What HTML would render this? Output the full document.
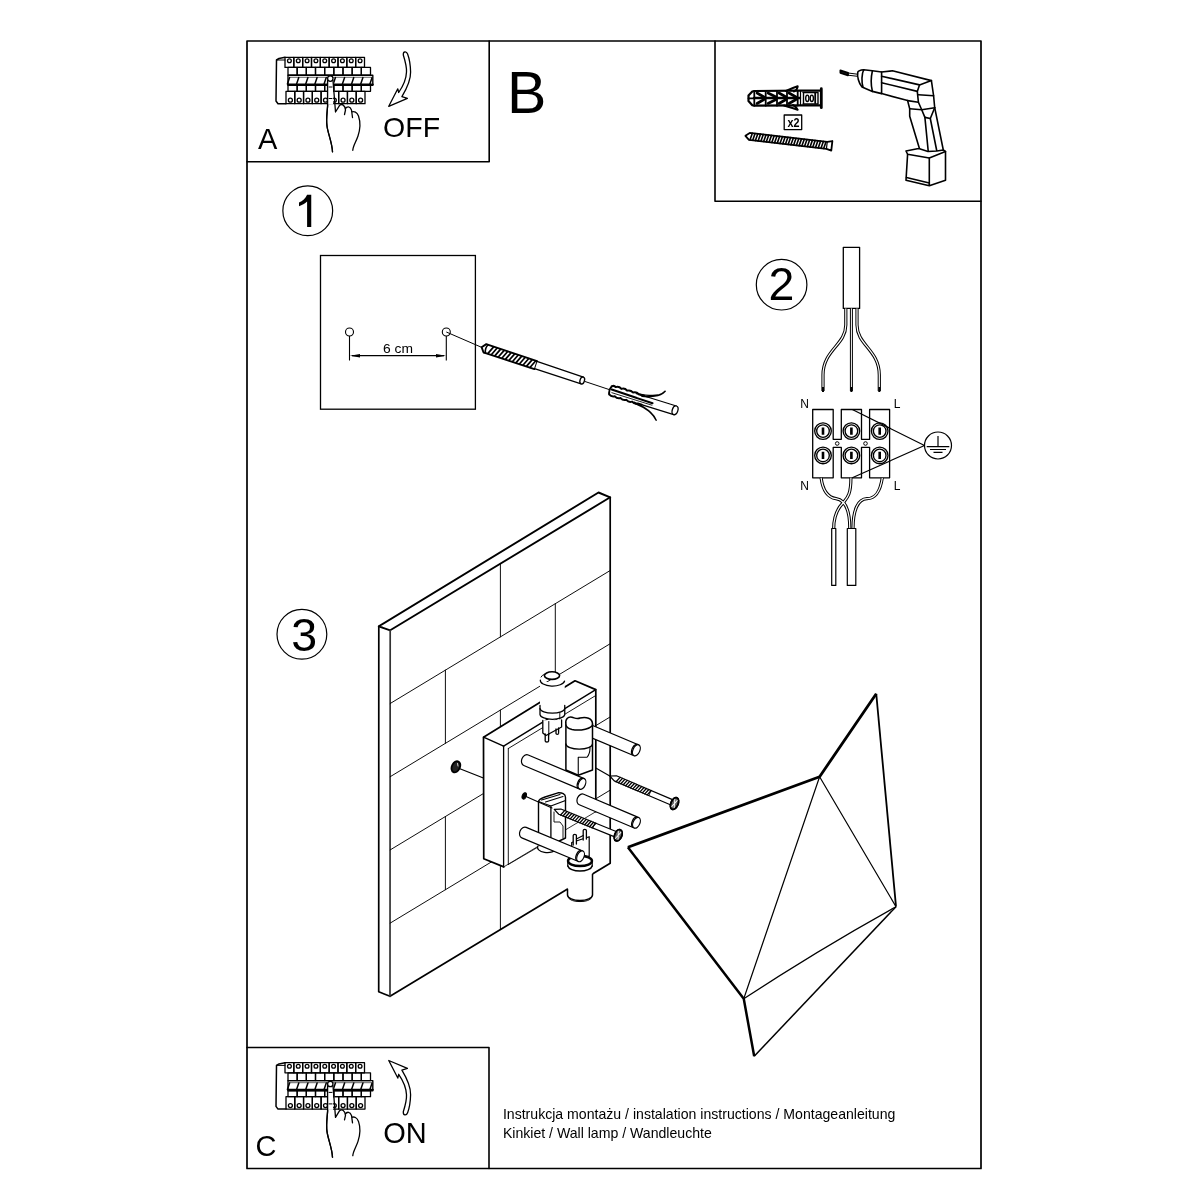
<!DOCTYPE html>
<html><head><meta charset="utf-8">
<style>
html,body{margin:0;padding:0;background:#fff;}
body{width:1200px;height:1200px;overflow:hidden;position:relative;}
svg{position:absolute;left:0;top:0;}
text{font-family:"Liberation Sans",sans-serif;fill:#000;}
svg{will-change:transform;}
</style></head><body>
<svg width="1200" height="1200" viewBox="0 0 1200 1200">
<g fill="none" stroke="#000" stroke-linejoin="round" stroke-linecap="round">
<!-- outer frame -->
<rect x="247" y="41" width="734" height="1127.5" stroke-width="1.7"/>
<!-- box A -->
<polyline points="247,161.8 489.2,161.8 489.2,41" stroke-width="1.6"/>
<!-- box tools -->
<polyline points="715,41 715,201.3 981,201.3" stroke-width="1.6"/>
<!-- box C -->
<polyline points="247,1047.5 489,1047.5 489,1168.5" stroke-width="1.6"/>
</g>

<!-- texts -->
<text x="507" y="112.7" font-size="59">B</text>
<text x="258" y="148.7" font-size="29">A</text>
<text x="383.1" y="137.2" font-size="28.5">OFF</text>
<text x="255.5" y="1156" font-size="29">C</text>
<text x="383.25" y="1143.2" font-size="29">ON</text>
<text x="502.9" y="1118.75" font-size="14.1" fill="#1a1a1a">Instrukcja montażu / instalation instructions / Montageanleitung</text>
<text x="502.9" y="1137.5" font-size="14.1" fill="#1a1a1a">Kinkiet / Wall lamp / Wandleuchte</text>

<!-- step circles -->
<g fill="none" stroke="#000" stroke-width="1.2">
<circle cx="307.75" cy="210.75" r="24.9"/>
<circle cx="781.6" cy="284.7" r="25.3"/>
<circle cx="301.9" cy="634.3" r="24.9"/>
</g>
<path d="M307.1,194.8 L311.25,194.8 L311.25,227 L307.1,227 L307.1,201.6 C305,203.8 302,205.3 299,206.3 L299,202.6 C302.5,201.2 305.6,198.5 307.1,194.8 Z" fill="#000"/>
<text x="768.6" y="300.3" font-size="46.5">2</text>
<text x="291.2" y="650.8" font-size="46.5">3</text>

<!-- STEP1 -->
<g id="step1" fill="none" stroke="#000">
<rect x="320.5" y="255.5" width="154.9" height="153.7" stroke-width="1.3"/>
<circle cx="349.5" cy="332" r="4" stroke-width="1.1"/>
<circle cx="446.3" cy="332" r="4" stroke-width="1.1"/>
<path d="M349.5,336 V360.5 M446.3,336 V360.5" stroke-width="1.1"/>
<path d="M352,355.7 H444" stroke-width="1.2"/>
<path d="M446.3,332 L482,347.5" stroke-width="1"/>
<path d="M585,381.5 L609,389.5" stroke-width="1"/>
</g>
<path d="M349.8,355.7 L360,353.9 L360,357.5 Z M446,355.7 L436,353.9 L436,357.5 Z" fill="#000"/>
<text x="383" y="353" font-size="13.6" textLength="30" lengthAdjust="spacingAndGlyphs">6 cm</text>
<!-- drill bit -->
<g transform="translate(481.6,347.2) rotate(18.3)" fill="none" stroke="#000" stroke-linejoin="round" stroke-linecap="round">
<path d="M0,0 L3.5,-4.4 L6.5,-4.4 L57,-4.2 M0,0 L3.5,4.4 L6.5,4.4 L57,4.2" stroke-width="1.9"/>
<path d="M5.5,-4.2 C4,-2 4,2 5.5,4.2" stroke-width="1.6"/>
<path d="M8.0,3.8 L11.2,-3.8 M11.7,3.8 L14.9,-3.8 M15.4,3.8 L18.6,-3.8 M19.1,3.8 L22.3,-3.8 M22.8,3.8 L26.0,-3.8 M26.5,3.8 L29.7,-3.8 M30.2,3.8 L33.4,-3.8 M33.9,3.8 L37.1,-3.8 M37.6,3.8 L40.8,-3.8 M41.3,3.8 L44.5,-3.8 M45.0,3.8 L48.2,-3.8 M48.7,3.8 L51.9,-3.8 M52.4,3.8 L55.6,-3.8 " stroke-width="1.7"/>
<path d="M57,-3.8 L106,-3.6 M57,3.8 L106,3.6" stroke-width="1.3"/>
<path d="M57,-4.2 L57,4.2" stroke-width="1"/>
<ellipse cx="106" cy="0" rx="2.2" ry="3.6" stroke-width="1.3" fill="#fff"/>
</g>
<!-- dowel step1 -->
<g transform="translate(608.6,389.6) rotate(17.3)" fill="none" stroke="#000" stroke-linejoin="round" stroke-linecap="round">
<path d="M69.6,-4.5 L35,-4.5 M69.6,4.5 L35,4.5" stroke-width="1.2"/>
<path d="M2,-4 Q0,0 2,4.5 M2,-4 Q4,-6 6,-4.5 Q9,-6.5 12,-4.5 Q15,-6.5 18,-4.5 Q21,-6.5 24,-4.5 Q27,-6.5 30,-4.5 L36,-4.5 M2,4.5 Q5,6.5 8,4.5 Q11,6.5 14,4.5 Q17,6.5 20,4.5 Q23,6.5 26,4.5 Q29,6.5 32,4.5 L36,4.5" stroke-width="2"/>
<path d="M3,-1 L46,0" stroke-width="2"/>
<path d="M4,2 L46,2" stroke-width="0.8"/>
<path d="M28,-4.5 Q42,-6 49,-9.5 Q53,-12 54.5,-15.2 Q52,-10 46,-7.5 Q40,-4.5 34,-3.5" stroke-width="1.5"/>
<path d="M28,4.5 Q40,6 47,9.5 Q52,12 54.5,15.1 Q50,10.5 45,8.5 Q38,6 30,5.5" stroke-width="1.5"/>
<ellipse cx="69.6" cy="0" rx="2.8" ry="4.5" stroke-width="1.3" fill="#fff"/>
</g>

<!-- STEP2 -->
<g id="step2" fill="none" stroke="#000" stroke-linejoin="round">
<rect x="843.3" y="247.3" width="16.3" height="61.1" stroke-width="1.3"/>
<!-- upper wires (double lines) -->
<path d="M845.8,308.4 L845.8,325 C845.8,345 823,350 823,375 L823,391" stroke-width="3.2"/>
<path d="M845.8,308.4 L845.8,325 C845.8,345 823,350 823,375 L823,391" stroke="#fff" stroke-width="1.2"/>
<path d="M851.4,308.4 L851.4,391" stroke-width="3"/>
<path d="M851.4,308.4 L851.4,391" stroke="#fff" stroke-width="1"/>
<path d="M857,308.4 L857,325 C857,345 879.3,350 879.3,375 L879.3,391" stroke-width="3.2"/>
<path d="M857,308.4 L857,325 C857,345 879.3,350 879.3,375 L879.3,391" stroke="#fff" stroke-width="1.2"/>
<path d="M823,387 V392 M851.4,387 V392 M879.3,387 V392" stroke-width="2"/>
<!-- terminal block outline -->
<path d="M812.7,409.5 H833.2 V439.3 H841.3 V409.5 H861.5 V439.3 H869.6 V409.5 H889.6 V477.8 H869.6 V447.4 H861.5 V477.8 H841.3 V447.4 H833.2 V477.8 H812.7 Z" stroke-width="1.3"/>
<circle cx="837.2" cy="443.5" r="1.8" stroke-width="1"/>
<circle cx="865.5" cy="443.5" r="1.8" stroke-width="1"/>
<g stroke-width="1.35">
<circle cx="823" cy="431.1" r="8.3"/><circle cx="823" cy="431.1" r="6.3"/>
<circle cx="851.4" cy="431.1" r="8.3"/><circle cx="851.4" cy="431.1" r="6.3"/>
<circle cx="879.7" cy="431.1" r="8.3"/><circle cx="879.7" cy="431.1" r="6.3"/>
<circle cx="823" cy="455.4" r="8.3"/><circle cx="823" cy="455.4" r="6.3"/>
<circle cx="851.4" cy="455.4" r="8.3"/><circle cx="851.4" cy="455.4" r="6.3"/>
<circle cx="879.7" cy="455.4" r="8.3"/><circle cx="879.7" cy="455.4" r="6.3"/>
</g>
<path d="M823,427.4 V434.8 M851.4,427.4 V434.8 M879.7,427.4 V434.8 M823,451.7 V459.1 M851.4,451.7 V459.1 M879.7,451.7 V459.1" stroke-width="2.6"/>
<!-- earth lines -->
<path d="M852.3,409.5 L924.5,445.5 L852.3,477.8" stroke-width="1.2"/>
<circle cx="938" cy="445.5" r="13.5" stroke-width="1.2"/>
<path d="M938,436 V446.7 M926.7,446.7 H949.3 M930,449.5 H946 M933.5,452.3 H942.5" stroke-width="1.2"/>
<!-- lower wires -->
<g id="lw">
<path d="M821.1,477.8 C823,492 828,497.5 836,498.7 C845,500 849.8,510 849.8,528.5" stroke-width="3.2"/>
<path d="M850.9,477.8 C851,495 847,498 843,503 C836,510 833.7,518 833.7,528.5" stroke-width="3.2"/>
<path d="M882.3,477.8 C880,493 875,498.5 867,498.7 C858,499 853,510 853,528.5" stroke-width="3.2"/>
</g>
<g stroke="#fff" stroke-width="1.2">
<path d="M821.1,477.8 C823,492 828,497.5 836,498.7 C845,500 849.8,510 849.8,528.5"/>
<path d="M850.9,477.8 C851,495 847,498 843,503 C836,510 833.7,518 833.7,528.5"/>
<path d="M882.3,477.8 C880,493 875,498.5 867,498.7 C858,499 853,510 853,528.5"/>
</g>
<rect x="831.7" y="528.5" width="4.1" height="56.9" stroke-width="1.2" fill="#fff"/>
<rect x="847.3" y="528.5" width="8.5" height="56.9" stroke-width="1.2" fill="#fff"/>
</g>
<text x="800.3" y="408.4" font-size="12">N</text>
<text x="893.8" y="408.4" font-size="12">L</text>
<text x="800.3" y="489.9" font-size="12">N</text>
<text x="893.8" y="489.9" font-size="12">L</text>

<!-- TOOLS -->
<g id="tools" fill="none" stroke="#000" stroke-linejoin="round" stroke-linecap="round">
<!-- dowel -->
<path d="M754.3,91 L752.3,91.5 L748.5,95.5 L748.5,101 L752.3,105.2 L754.3,105.7 L800,105.3 L820,105.3 M754.3,91 L800,90.7 L820,90.7" stroke-width="2.2"/>
<path d="M821.3,88.7 V107.7" stroke-width="2.8"/>
<path d="M748.5,98.3 H754 M754.3,91 V105.7 M765.7,91 V105.7 M777,91 V105.7 M787,91 V105.7 M797.7,90.8 V105.5" stroke-width="1.8"/>
<path d="M757,93 L764,97 M768,93 L776,97 M779,93 L786,97 M789,93 L796,97 M757,103.5 L764,99.5 M768,103.5 L776,99.5 M779,103.5 L786,99.5 M789,103.5 L796,99.5" stroke-width="2.6"/>
<path d="M754,98 L800,98" stroke-width="2.4"/>
<path d="M786,91 Q792,88 797.7,86.2 Q797.5,89.5 794,91.5" stroke-width="2"/>
<path d="M784,105.5 Q791,107.5 797.7,109.8 Q796.5,106.5 793,105" stroke-width="2"/>
<path d="M800.5,90.8 V105.5" stroke-width="1.2"/>
<path d="M803,92.5 L818,92.5 M803,104 L818,104 M803.5,92.5 L803.5,104 M818,92.5 L818,104" stroke-width="1.4"/>
<ellipse cx="807.3" cy="98.3" rx="1.6" ry="3.2" stroke-width="1.4"/>
<ellipse cx="811.8" cy="98.3" rx="1.6" ry="3.2" stroke-width="1.4"/>
<path d="M815.2,93.5 L815.2,103" stroke-width="1.8"/>
<!-- x2 -->
<rect x="784.2" y="115" width="17.5" height="14.6" stroke-width="1.3"/>
</g>
<text x="787.5" y="126.6" font-size="12" font-weight="bold" textLength="12" lengthAdjust="spacingAndGlyphs">x2</text>
<!-- screw tools -->
<g transform="translate(745.4,135.8) rotate(6.6)" fill="none" stroke="#000" stroke-linejoin="round" stroke-linecap="round">
<path d="M0,0 L4,-3.4 L82,-3.4 L87,-4.8 L87,4.8 L82,3.6 L4,3.6 Z" stroke-width="1.8"/>
<path d="M5.0,3.6 L6.6,-3.4 M7.8,3.6 L9.3,-3.4 M10.5,3.6 L12.1,-3.4 M13.2,3.6 L14.8,-3.4 M16.0,3.6 L17.6,-3.4 M18.8,3.6 L20.4,-3.4 M21.5,3.6 L23.1,-3.4 M24.2,3.6 L25.9,-3.4 M27.0,3.6 L28.6,-3.4 M29.8,3.6 L31.4,-3.4 M32.5,3.6 L34.1,-3.4 M35.2,3.6 L36.9,-3.4 M38.0,3.6 L39.6,-3.4 M40.8,3.6 L42.4,-3.4 M43.5,3.6 L45.1,-3.4 M46.2,3.6 L47.9,-3.4 M49.0,3.6 L50.6,-3.4 M51.8,3.6 L53.4,-3.4 M54.5,3.6 L56.1,-3.4 M57.2,3.6 L58.9,-3.4 M60.0,3.6 L61.6,-3.4 M62.8,3.6 L64.3,-3.4 M65.5,3.6 L67.1,-3.4 M68.2,3.6 L69.8,-3.4 M71.0,3.6 L72.6,-3.4 M73.8,3.6 L75.3,-3.4 M76.5,3.6 L78.1,-3.4 M79.2,3.6 L80.8,-3.4 " stroke-width="1.6"/>
<path d="M82,-3.4 L82,3.6" stroke-width="1.2"/>
</g>
<!-- drill -->
<g id="drill" fill="none" stroke="#000" stroke-linejoin="round" stroke-linecap="round" stroke-width="1.6">
<path d="M840.4,70.3 L848,72.8 L848,75.3 L840.4,72.8 Z" fill="#222" stroke-width="1.8"/>
<path d="M848,73 L857.5,74.2 M848,75.2 L857.5,76.3" stroke-width="1"/>
<path d="M857.8,72 C857,76 858.5,83 862,87 L872.4,91.4 C871,86 871,77 872.4,70.8 L863.7,69.75 C861,70 858.5,70.5 857.8,72 Z"/>
<path d="M863.7,69.75 C861.5,74 861.5,82 863,87.3"/>
<path d="M872.4,70.8 L881.6,72 L881.6,93.6 L872.4,91.4"/>
<path d="M881.6,72 L892.4,70.8 L931.4,80.6 L933.6,95.75 L934.7,107.7 L943.3,150"/>
<path d="M881.6,76.25 L919.5,84.9 L931.4,80.6"/>
<path d="M881.6,82.75 L917.3,91.4"/>
<path d="M919.5,84.9 L917.3,91.4 L918.4,102.25 L921.7,109.8 L934.7,107.7"/>
<path d="M918.4,94.7 L933.6,95.75"/>
<path d="M881.6,93.6 L907.6,100.6 L909.7,108.75 L909.7,116.3 L919.5,148.8"/>
<path d="M907.6,100.6 L918.4,102.25"/>
<path d="M909.7,108.75 L921.7,109.8 L924.9,117.4 L928.2,151"/>
<path d="M924.9,117.4 L930.3,118.5 L936.8,151"/>
<path d="M930.3,118.5 L934.7,107.7"/>
<path d="M906,151 L917.3,148.8 L919.5,148.8 L928,151.5 L936.8,151 L943.3,150 L945.5,151.5 L929.3,158 L907.6,154.25 Z" fill="#fff"/>
<path d="M907.6,154.25 L906,180.3 L929.3,185.7 L945.5,180.3 L945.5,151.5 M929.3,158 L929.3,185.7"/>
<path d="M906.5,177.5 L929.3,183"/>
</g>

<!-- PANEL A -->
<defs>
<g id="panel" fill="none" stroke="#000" stroke-linejoin="round" stroke-linecap="round">
<path d="M285,57.3 L279,58.5 L276.5,60 L276,101 L278,103.7 L286,103.7" stroke-width="1.5"/>
<path d="M276.5,60 L285,60" stroke-width="1"/>
<g stroke-width="1.3"><rect x="285.00" y="57.3" width="8.83" height="10.1"/><circle cx="289.42" cy="60.8" r="1.9"/><rect x="293.83" y="57.3" width="8.83" height="10.1"/><circle cx="298.25" cy="60.8" r="1.9"/><rect x="302.67" y="57.3" width="8.83" height="10.1"/><circle cx="307.08" cy="60.8" r="1.9"/><rect x="311.50" y="57.3" width="8.83" height="10.1"/><circle cx="315.92" cy="60.8" r="1.9"/><rect x="320.33" y="57.3" width="8.83" height="10.1"/><circle cx="324.75" cy="60.8" r="1.9"/><rect x="329.17" y="57.3" width="8.83" height="10.1"/><circle cx="333.58" cy="60.8" r="1.9"/><rect x="338.00" y="57.3" width="8.83" height="10.1"/><circle cx="342.42" cy="60.8" r="1.9"/><rect x="346.83" y="57.3" width="8.83" height="10.1"/><circle cx="351.25" cy="60.8" r="1.9"/><rect x="355.67" y="57.3" width="8.83" height="10.1"/><circle cx="360.08" cy="60.8" r="1.9"/><rect x="288.00" y="67.4" width="9.17" height="7.8"/><rect x="297.17" y="67.4" width="9.17" height="7.8"/><rect x="306.33" y="67.4" width="9.17" height="7.8"/><rect x="315.50" y="67.4" width="9.17" height="7.8"/><rect x="324.67" y="67.4" width="9.17" height="7.8"/><rect x="333.83" y="67.4" width="9.17" height="7.8"/><rect x="343.00" y="67.4" width="9.17" height="7.8"/><rect x="352.17" y="67.4" width="9.17" height="7.8"/><rect x="361.33" y="67.4" width="9.17" height="7.8"/></g>
<path d="M288,75.2 H372.8 V85.3 H288 Z" stroke-width="1.4"/>
<path d="M288,77.3 H372.8" stroke-width="0.9" stroke="#555"/>
<path d="M288,84.4 H372.8" stroke-width="2"/>
<path d="M289.60,77.6 L287.40,84 M298.77,77.6 L296.57,84 M307.93,77.6 L305.73,84 M317.10,77.6 L314.90,84 M326.27,77.6 L324.07,84 M335.43,77.6 L333.23,84 M344.60,77.6 L342.40,84 M353.77,77.6 L351.57,84 M362.93,77.6 L360.73,84 M372.10,77.6 L369.90,84 " stroke-width="1.5"/>
<g stroke-width="1.3"><rect x="288.00" y="85.3" width="9.17" height="6"/><rect x="297.17" y="85.3" width="9.17" height="6"/><rect x="306.33" y="85.3" width="9.17" height="6"/><rect x="315.50" y="85.3" width="9.17" height="6"/><rect x="324.67" y="85.3" width="9.17" height="6"/><rect x="333.83" y="85.3" width="9.17" height="6"/><rect x="343.00" y="85.3" width="9.17" height="6"/><rect x="352.17" y="85.3" width="9.17" height="6"/><rect x="361.33" y="85.3" width="9.17" height="6"/><rect x="286.00" y="91.3" width="8.78" height="12.4"/><circle cx="290.39" cy="100.2" r="2"/><rect x="294.78" y="91.3" width="8.78" height="12.4"/><circle cx="299.17" cy="100.2" r="2"/><rect x="303.56" y="91.3" width="8.78" height="12.4"/><circle cx="307.94" cy="100.2" r="2"/><rect x="312.33" y="91.3" width="8.78" height="12.4"/><circle cx="316.72" cy="100.2" r="2"/><rect x="321.11" y="91.3" width="8.78" height="12.4"/><circle cx="325.50" cy="100.2" r="2"/><rect x="329.89" y="91.3" width="8.78" height="12.4"/><circle cx="334.28" cy="100.2" r="2"/><rect x="338.67" y="91.3" width="8.78" height="12.4"/><circle cx="343.06" cy="100.2" r="2"/><rect x="347.44" y="91.3" width="8.78" height="12.4"/><circle cx="351.83" cy="100.2" r="2"/><rect x="356.22" y="91.3" width="8.78" height="12.4"/><circle cx="360.61" cy="100.2" r="2"/></g>
<!-- hand -->
<path d="M327.6,80.5 L327.6,106 C327,114 326,120 327,126 C328,134 332,142 332.5,151.8" stroke-width="1.3" fill="none"/>
<path d="M327.6,80.5 L333,80.5 L335.5,112 L333.5,80.5 Z" fill="#fff" stroke="none"/>
<rect x="327.6" y="80.5" width="5.5" height="24" fill="#fff" stroke="none"/>
<path d="M327.6,80.5 L327.6,106 C327,114 326,120 327,126 C328,134 332,142 332.5,151.8" stroke-width="1.3"/>
<path d="M333,80.5 L335.5,112 L339.6,105.3 C342,103.5 345,105 345.5,110 L344.5,114.5 M345.2,109 C347,106 350,106 351.5,110 L352.5,117.5 M351.8,112 C354,111 357,112 358.5,116 C360.5,122 360,130 358,136 C356,142 353,146 352.8,150.3" stroke-width="1.3"/>
<circle cx="330.3" cy="78.6" r="2.7" fill="#fff" stroke-width="1.3"/>
<path d="M329,87 H332 M329,98.5 L332,98.5" stroke-width="1"/>
</g>
</defs>
<use href="#panel"/>
<use href="#panel" transform="translate(0,1005.4)"/>
<!-- arrows -->
<defs>
<path id="arrow" d="M403.3,55 C405.5,62 406.8,67 406.5,72 C406.2,80 402.5,87 398.7,92.5 L397.8,88.8 L388.75,106.3 L407.4,98.4 L401.9,96.6 C406.5,89 410.8,80 410.6,72 C410.4,64 409.5,59 407.6,54 C406.5,51 403,51 403.3,55 Z" fill="none" stroke="#000" stroke-width="1.3" stroke-linejoin="round"/>
</defs>
<use href="#arrow"/>
<use href="#arrow" transform="translate(0,1166.8) scale(1,-1)"/>

<!-- STEP3 WALL -->
<g id="wall" fill="none" stroke="#000" stroke-linejoin="round" stroke-linecap="round">
<path d="M390.2,630.3 L378.8,626.3 L598.5,492.5 L610.2,497.3 L390.2,630.3 Z" stroke-width="1.9"/>
<path d="M378.8,626.3 L378.7,991.7 L390,996.3 L610.2,863.3 L610.2,497.3" stroke-width="1.7"/>
<path d="M390.2,630.3 L390,996.3" stroke-width="1.7" stroke="#333"/>
<path d="M390.2,703.50 L610.2,570.51 M390.2,776.70 L610.2,643.71 M390.2,849.90 L610.2,716.91 M390.2,923.10 L610.2,790.11 M500.4,563.68 L500.4,636.88 M445.4,670.13 L445.4,743.33 M555.3,603.70 L555.3,676.90 M500.4,710.08 L500.4,783.28 M445.4,816.53 L445.4,889.73 M555.3,750.10 L555.3,823.30 M500.4,856.48 L500.4,929.68" stroke-width="0.95"/>
</g>

<!-- STEP3 PARTS -->
<g id="parts" fill="none" stroke="#000" stroke-linejoin="round" stroke-linecap="round">
<path d="M567.5,866 L567.5,895 A12.5,5.5 0 0 0 592.5,895 L592.5,866 Z" fill="#fff" stroke="none"/>
<path d="M592.5,874.2 L592.5,895 A12.5,5.5 0 0 1 567.5,895 L567.5,889.2" stroke-width="1.5"/>
<path d="M568.5,898 A12,5 0 0 0 591.5,898" stroke-width="1"/>
<path d="M567.8,866 A12.3,5.8 0 0 0 592.2,866" fill="#fff" stroke-width="1.5"/>
<path d="M567.8,866 V861 M592.2,866 V861" stroke-width="1.2"/>
<ellipse cx="580" cy="861" rx="12" ry="5" fill="#fff" stroke-width="2.4"/>
<path d="M458,768 L482.75,777.75" stroke-width="1.3"/>
<ellipse cx="455.9" cy="766.8" rx="4" ry="5.9" transform="rotate(25 455.9 766.8)" fill="#222" stroke-width="1.8"/>
<path d="M457.5,763.5 L458,766" stroke="#fff" stroke-width="0.8"/>
<path d="M483.5,737.2 L575,680.8 L595.8,689.6 L595.8,811.7 L503.75,866.9 L483.75,858.75 Z" fill="#fff" stroke="none"/>
<path d="M595.8,811.7 L595.8,689.6 L575,680.8 L483.5,737.2 L483.75,858.75 L503.75,866.9" stroke-width="1.7"/>
<path d="M503.75,866.9 L595.8,811.7" stroke-width="1" stroke="#333"/>
<path d="M483.5,737.2 L503.6,746.2 L595.8,689.6" stroke-width="1.4"/>
<path d="M503.6,746.2 V866.9" stroke-width="1.3"/>
<path d="M508.3,748.5 V864.5 M508.3,748.5 L595.8,695.5" stroke-width="0.9"/>
<path d="M508.3,864.5 L545,843" stroke-width="0.8"/>
<g transform="translate(588.00,729.90) rotate(22.85)"><path d="M52.52,-5.9 L0,-5.9 A4.43,5.9 0 0 0 0,5.9 L52.52,5.9 Z" fill="#fff" stroke-width="1.2"/><path d="M50.32,-5.6000000000000005 A3.40,5.9 0 0 0 50.32,5.6000000000000005" stroke-width="1.2"/><ellipse cx="52.52" cy="0" rx="3.40" ry="5.9" fill="#fff" stroke-width="1.2"/></g>
<path d="M565.9,724 L565.9,770 L578.25,775.25 L592.5,770 L592.5,724 Z" fill="#fff" stroke-width="1.5"/>
<path d="M565.9,744 A13.3,5.2 0 0 0 592.5,744" stroke-width="1.3"/>
<path d="M578.25,757.25 L578.25,775.25 M578.25,757.25 L587,757.25 C589,755 590,752 590,748" stroke-width="1.1"/>
<path d="M565.9,724 C565,719 568,716.5 572,717.2 C575,718 577,719.5 580,718 C586,716.5 592.5,718 592.5,724 C592.5,729 580,731 572,729.5 C567.5,728.5 565.9,726.5 565.9,724 Z" fill="#fff" stroke-width="1.5"/>
<rect x="540" y="682" width="24.75" height="30" fill="#fff" stroke="none"/>
<path d="M540.3,680 A12.2,5.7 0 0 0 564.6,681" stroke-width="1.2"/>
<path d="M541,677 A12,5 0 0 1 545,674" stroke-width="1"/>
<ellipse cx="552" cy="675.6" rx="7.6" ry="3.8" fill="#fff" stroke-width="1.6"/>
<path d="M540,705.4 V714.6 A12.4,5 0 0 0 564.75,714.6 V705.4" fill="#fff" stroke-width="1.3"/>
<path d="M540,708.6 A12.4,4.8 0 0 0 564.75,708.6" stroke-width="1.3"/>
<path d="M559.8,712.5 V719" stroke-width="0.9"/>
<path d="M542.8,720.3 L542.8,733 L546,735.5 L561.6,727 L561.6,720" fill="#fff" stroke-width="1.3"/>
<path d="M548.8,721.5 V735" stroke-width="1"/>
<path d="M545.2,734 V741 M548.6,734 V741 M545.2,741 A1.7,1 0 0 0 548.6,741" stroke-width="1.3"/>
<path d="M556,729 V733.5 M558.6,728 V732.5 M556,733.5 A1.3,0.8 0 0 0 558.6,733.5" stroke-width="1.3"/>
<g transform="translate(526.00,760.20) rotate(22.94)"><path d="M60.81,-5.7 L0,-5.7 A4.28,5.7 0 0 0 0,5.7 L60.81,5.7 Z" fill="#fff" stroke-width="1.2"/><path d="M58.61,-5.4 A3.40,5.7 0 0 0 58.61,5.4" stroke-width="1.2"/><ellipse cx="60.81" cy="0" rx="3.40" ry="5.7" fill="#fff" stroke-width="1.2"/></g>
<path d="M595.8,768 L609.8,776" stroke-width="1.2"/>
<g transform="translate(609.80,776.00) rotate(23.03)"><path d="M0,0 L6,-2.8 L66.30,-2.8 L70.30,-4.3 L70.30,4.3 L66.30,2.8 L6,2.8 Z" fill="#fff" stroke-width="1.2"/><path d="M8.00,2.8 L10.00,-2.8 M10.60,2.8 L12.60,-2.8 M13.20,2.8 L15.20,-2.8 M15.80,2.8 L17.80,-2.8 M18.40,2.8 L20.40,-2.8 M21.00,2.8 L23.00,-2.8 M23.60,2.8 L25.60,-2.8 M26.20,2.8 L28.20,-2.8 M28.80,2.8 L30.80,-2.8 M31.40,2.8 L33.40,-2.8 M34.00,2.8 L36.00,-2.8 M36.60,2.8 L38.60,-2.8 M39.20,2.8 L41.20,-2.8 M41.80,2.8 L43.80,-2.8 " stroke-width="1.3"/><path d="M43.59,-2.8 L43.59,2.8" stroke-width="0.8"/><ellipse cx="70.30" cy="0" rx="3.6" ry="6.3" fill="#666" stroke-width="1.6"/><path d="M68.80,-4.3 L71.80,4.3 M71.80,-4.3 L68.80,4.3" stroke="#fff" stroke-width="0.9"/><ellipse cx="70.30" cy="0" rx="3.6" ry="6.3" stroke-width="1.6"/></g>
<path d="M538.5,801.5 L538.5,839 L550.9,845 L565.5,838 L565.5,797.5 C565.5,794 562,792.5 558,792.8 L545,797 C541,798.5 538.5,799.5 538.5,801.5 Z" fill="#fff" stroke-width="1.4"/>
<path d="M538.5,801.5 L550.9,806 L565.5,800.5 M550.9,806 V845" stroke-width="1.3"/>
<path d="M541.5,800 L560,794.5 M545.5,802 L563,796.5" stroke-width="1.1"/>
<path d="M554,812 V822 L560,822 L563,826 V838" stroke-width="0.9"/>
<path d="M526,796.5 L552,808" stroke-width="1.2"/>
<ellipse cx="524.25" cy="795.9" rx="2" ry="3.3" transform="rotate(20 524.25 795.9)" fill="#000" stroke-width="1"/>
<g transform="translate(554.25,809.40) rotate(22.05)"><path d="M0,0 L6,-2.8 L65.00,-2.8 L69.00,-4.3 L69.00,4.3 L65.00,2.8 L6,2.8 Z" fill="#fff" stroke-width="1.2"/><path d="M8.00,2.8 L10.00,-2.8 M10.60,2.8 L12.60,-2.8 M13.20,2.8 L15.20,-2.8 M15.80,2.8 L17.80,-2.8 M18.40,2.8 L20.40,-2.8 M21.00,2.8 L23.00,-2.8 M23.60,2.8 L25.60,-2.8 M26.20,2.8 L28.20,-2.8 M28.80,2.8 L30.80,-2.8 M31.40,2.8 L33.40,-2.8 M34.00,2.8 L36.00,-2.8 M36.60,2.8 L38.60,-2.8 M39.20,2.8 L41.20,-2.8 M41.80,2.8 L43.80,-2.8 " stroke-width="1.3"/><path d="M42.78,-2.8 L42.78,2.8" stroke-width="0.8"/><ellipse cx="69.00" cy="0" rx="3.6" ry="6.0" fill="#666" stroke-width="1.6"/><path d="M67.50,-4.0 L70.50,4.0 M70.50,-4.0 L67.50,4.0" stroke="#fff" stroke-width="0.9"/><ellipse cx="69.00" cy="0" rx="3.6" ry="6.0" stroke-width="1.6"/></g>
<g transform="translate(581.50,799.50) rotate(22.96)"><path d="M59.73,-5.7 L0,-5.7 A4.28,5.7 0 0 0 0,5.7 L59.73,5.7 Z" fill="#fff" stroke-width="1.2"/><path d="M57.53,-5.4 A3.40,5.7 0 0 0 57.53,5.4" stroke-width="1.2"/><ellipse cx="59.73" cy="0" rx="3.40" ry="5.7" fill="#fff" stroke-width="1.2"/></g>
<path d="M571.7,842.5 L571.7,852 L589.2,856.7 L589.2,836.7 Z" fill="#fff" stroke-width="1.2"/>
<path d="M573.2,845 V835.5 A1.6,1.2 0 0 1 576.4,835.5 V844 M583.2,840 V830.5 A1.6,1.2 0 0 1 586.4,830.5 V839" fill="#fff" stroke-width="1.3"/>
<path d="M576.4,839 L583.2,835.5" stroke-width="1.1"/>
<path d="M538,846 A9.5,4.8 0 0 0 557,849" fill="#fff" stroke-width="1.2"/>
<g transform="translate(524.00,832.60) rotate(22.72)"><path d="M61.36,-5.7 L0,-5.7 A4.28,5.7 0 0 0 0,5.7 L61.36,5.7 Z" fill="#fff" stroke-width="1.2"/><path d="M59.16,-5.4 A3.40,5.7 0 0 0 59.16,5.4" stroke-width="1.2"/><ellipse cx="61.36" cy="0" rx="3.40" ry="5.7" fill="#fff" stroke-width="1.2"/></g>
</g>

<!-- LAMPSHADE -->
<g fill="none" stroke="#000" stroke-linejoin="round">
<path d="M876.25,693.75 L819.6,776.7 L627.9,847.3" stroke-width="2.8"/>
<path d="M627.9,847.3 L743.75,998.75 L754.2,1056.25" stroke-width="2.5"/>
<path d="M876.25,693.75 L896,906.7" stroke-width="1.8"/>
<path d="M896,906.7 L754.2,1056.25" stroke-width="1.5"/>
<path d="M819.6,776.7 L896,906.7 M743.75,998.75 L819.6,776.7" stroke-width="1.2"/>
<path d="M743.75,998.75 Q818,950 896,906.7" stroke-width="1.3"/>
</g>

</svg>
</body></html>
